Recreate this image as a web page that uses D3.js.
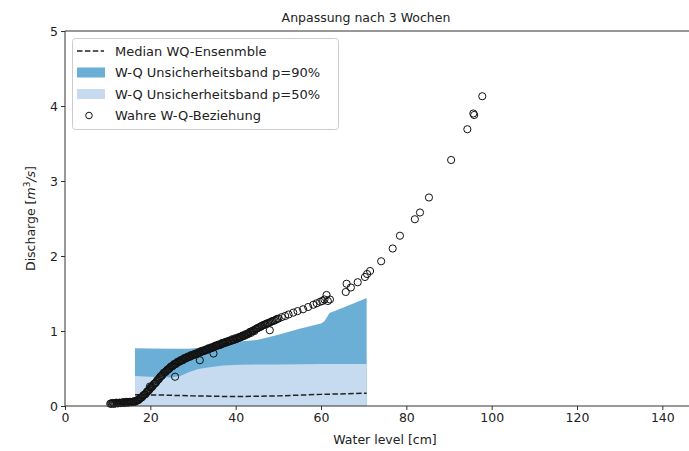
<!DOCTYPE html>
<html><head><meta charset="utf-8">
<script src="https://cdn.jsdelivr.net/npm/d3@7/dist/d3.min.js"></script>
<style>body{margin:0;background:#fff}svg{display:block;font-family:"DejaVu Sans",sans-serif}</style>
</head><body>
<svg id="c" width="689" height="451"></svg>
<script>
// ---- data ----
const xTicks = [0,20,40,60,80,100,120,140];
const yTicks = [0,1,2,3,4,5];
const bandX   = [16.4,20,25,27,29,31,33,37,41,45,50,55,60,60.8,62,66,70.7];
const upper90 = [0.77,0.768,0.765,0.765,0.765,0.775,0.79,0.83,0.86,0.88,0.95,1.03,1.10,1.13,1.24,1.33,1.44];
const upper50 = [0.40,0.39,0.38,0.40,0.45,0.49,0.51,0.54,0.55,0.555,0.555,0.557,0.56,0.56,0.56,0.56,0.56];
const medX = [16.4,22,30,40,50,60,70.7];
const medY = [0.15,0.147,0.135,0.125,0.135,0.155,0.17];
const obsX = [10.6,11.0,11.4,11.8,12.2,12.6,13.0,13.4,13.8,14.2,14.6,15.0,15.4,15.8,16.2,16.6,17.0,17.4,17.8,18.2,18.6,19.0,19.4,19.8,20.2,20.6,21.0,21.4,21.8,22.2,22.6,23.0,23.4,23.8,24.2,24.6,25.0,25.4,25.8,26.2,26.6,27.0,27.4,27.8,28.2,28.6,29.0,29.4,29.8,30.2,30.6,31.0,31.4,31.8,32.2,32.6,33.0,33.4,33.8,34.2,34.6,35.0,35.4,35.8,36.2,36.6,37.0,37.4,37.8,38.2,38.6,39.0,39.4,39.8,40.2,40.6,41.0,41.4,41.8,42.2,42.6,43.0,43.4,43.8,44.2,44.6,45.0,45.5,46.0,46.5,47.0,47.6,48.2,48.8,49.4,50.0,50.8,51.6,52.4,53.5,54.5,55.8,57.0,58.2,59.0,59.8,60.3,60.8,61.3,62.1,61.6,
  19.9,25.8,31.6,34.8,48.0,
  65.8,66.0,67.0,68.6,70.3,70.8,71.5,74.1,76.8,78.5,82.0,83.2,85.3,90.5,94.3,95.7,95.9,97.8];
const obsY = [0.03,0.03,0.035,0.035,0.04,0.04,0.04,0.045,0.045,0.05,0.05,0.05,0.055,0.055,0.06,0.065,0.075,0.09,0.11,0.13,0.15,0.17,0.2,0.22,0.25,0.27,0.3,0.32,0.35,0.38,0.40,0.43,0.45,0.47,0.49,0.51,0.53,0.545,0.56,0.575,0.59,0.60,0.61,0.625,0.635,0.645,0.655,0.665,0.675,0.685,0.69,0.70,0.71,0.72,0.73,0.735,0.745,0.755,0.765,0.77,0.78,0.79,0.80,0.81,0.815,0.825,0.835,0.84,0.85,0.86,0.865,0.875,0.88,0.885,0.895,0.905,0.915,0.925,0.935,0.945,0.955,0.965,0.99,0.995,1.01,1.02,1.035,1.05,1.065,1.08,1.09,1.105,1.12,1.135,1.15,1.165,1.185,1.20,1.22,1.245,1.265,1.29,1.32,1.35,1.37,1.39,1.40,1.42,1.48,1.42,1.40,
  0.26,0.39,0.61,0.70,1.01,
  1.52,1.63,1.58,1.65,1.72,1.76,1.80,1.93,2.10,2.27,2.49,2.58,2.78,3.28,3.69,3.90,3.88,4.13];
// second batch of observations (dense low range)
const obsX2 = [10.8,11.2,11.6,12.0,12.4,12.8,13.2,13.6,14.0,14.4,14.8,15.2,15.6,16.0,16.4,16.8,17.2,17.6,18.0,18.4,18.8,19.2,19.6,20.0,20.4,20.8,21.2,21.6,22.0,22.4,22.8,23.2,23.6,24.0,24.4,24.8,25.2,25.6,26.0,26.4,26.8,27.2,27.6,28.0,28.4,28.8,29.2,29.6,30.0,30.4,30.8,31.2,31.6,32.0,32.4,32.8,33.2,33.6,34.0,34.4,34.8,35.2,35.6,36.0,36.4,36.8,37.2,37.6,38.0,38.4,38.8,39.2,39.6,40.0,40.4,40.8,41.2,41.6,42.0,42.4,42.8,43.2,43.6,44.0,44.4,44.8,45.2,45.8,46.2,46.8,47.3,47.9,48.5,49.1,49.7];
const obsY2 = [0.035,0.04,0.03,0.045,0.035,0.045,0.04,0.05,0.04,0.055,0.045,0.055,0.05,0.06,0.055,0.075,0.08,0.105,0.115,0.145,0.155,0.19,0.205,0.24,0.255,0.29,0.305,0.34,0.36,0.395,0.41,0.445,0.455,0.485,0.495,0.525,0.53,0.56,0.56,0.59,0.59,0.615,0.61,0.64,0.635,0.66,0.655,0.68,0.675,0.695,0.69,0.715,0.71,0.735,0.73,0.75,0.745,0.77,0.765,0.785,0.78,0.805,0.80,0.82,0.815,0.84,0.835,0.855,0.85,0.87,0.865,0.89,0.885,0.905,0.90,0.92,0.915,0.94,0.935,0.96,0.955,0.98,0.975,1.0,1.0,1.03,1.04,1.055,1.07,1.085,1.10,1.11,1.13,1.14,1.16];

// ---- layout ----
const svg = d3.select("#c");
const L = 65, R = 705, T = 31, B = 406;
const x = d3.scaleLinear().domain([0,150]).range([L,R]);
const y = d3.scaleLinear().domain([0,5]).range([B,T]);

const bands = bandX.map((v,i)=>({x:v,u90:upper90[i],u50:upper50[i]}));
const area90 = d3.area().x(d=>x(d.x)).y0(y(0)).y1(d=>y(d.u90));
const area50 = d3.area().x(d=>x(d.x)).y0(y(0)).y1(d=>y(d.u50));
svg.append("path").attr("d",area90(bands)).attr("fill","#6baed6");
svg.append("path").attr("d",area50(bands)).attr("fill","#c6dbef");

const med = medX.map((v,i)=>[v,medY[i]]);
svg.append("path").attr("d",d3.line().x(d=>x(d[0])).y(d=>y(d[1]))(med))
  .attr("fill","none").attr("stroke","#222").attr("stroke-width",1.5).attr("stroke-dasharray","5.5,2.4");

const pts = obsX.map((v,i)=>[v,obsY[i]]).concat(obsX2.map((v,i)=>[v,obsY2[i]]));
svg.append("g").selectAll("circle").data(pts).join("circle")
  .attr("cx",d=>x(d[0])).attr("cy",d=>y(d[1])).attr("r",3.6)
  .attr("fill","none").attr("stroke","#111").attr("stroke-width",1);

// axes
const xa = svg.append("g").attr("transform",`translate(0,${B})`)
  .call(d3.axisBottom(x).tickValues(xTicks).tickSize(4).tickPadding(3).tickFormat(d3.format("d")));
const ya = svg.append("g").attr("transform",`translate(${L},0)`)
  .call(d3.axisLeft(y).tickValues(yTicks).tickSize(4).tickPadding(3).tickFormat(d3.format("d")));
[xa,ya].forEach(a=>{a.select(".domain").remove();a.selectAll("text").attr("font-size",12.5).attr("fill","#222").attr("font-family","DejaVu Sans");a.selectAll("line").attr("stroke","#333");});
// spines
svg.append("line").attr("x1",L).attr("x2",R).attr("y1",B).attr("y2",B).attr("stroke","#333");
svg.append("line").attr("x1",L).attr("x2",R).attr("y1",T).attr("y2",T).attr("stroke","#333");
svg.append("line").attr("x1",L).attr("x2",L).attr("y1",T).attr("y2",B).attr("stroke","#333");

// texts
svg.append("text").attr("x",366).attr("y",22).attr("text-anchor","middle").attr("font-size",12.5).attr("fill","#222").text("Anpassung nach 3 Wochen");
svg.append("text").attr("x",385).attr("y",444).attr("text-anchor","middle").attr("font-size",12.5).attr("fill","#222").text("Water level [cm]");
const yl = svg.append("text").attr("transform",`translate(35,${(T+B)/2}) rotate(-90)`).attr("text-anchor","middle").attr("font-size",12.5).attr("fill","#222");
yl.append("tspan").text("Discharge [");
yl.append("tspan").attr("font-style","italic").text("m");
yl.append("tspan").attr("font-size",9).attr("dy",-5).text("3");
yl.append("tspan").attr("font-style","italic").attr("dy",5).text("/s");
yl.append("tspan").text("]");

// legend
const lg = svg.append("g");
lg.append("rect").attr("x",72.5).attr("y",38.5).attr("width",266).attr("height",91).attr("rx",3)
  .attr("fill","#fff").attr("fill-opacity",0.8).attr("stroke","#ccc");
const rows = [51,72.5,94,115.5];
const labels = ["Median WQ-Ensenmble","W-Q Unsicherheitsband p=90%","W-Q Unsicherheitsband p=50%","Wahre W-Q-Beziehung"];
lg.append("line").attr("x1",77).attr("x2",104).attr("y1",rows[0]).attr("y2",rows[0])
  .attr("stroke","#222").attr("stroke-width",1.5).attr("stroke-dasharray","5.5,2.4");
lg.append("rect").attr("x",77).attr("y",rows[1]-5).attr("width",28).attr("height",10).attr("fill","#6baed6");
lg.append("rect").attr("x",77).attr("y",rows[2]-5).attr("width",28).attr("height",10).attr("fill","#c6dbef");
lg.append("circle").attr("cx",89).attr("cy",rows[3]).attr("r",3.3).attr("fill","none").attr("stroke","#111");
labels.forEach((t,i)=>lg.append("text").attr("x",115).attr("y",rows[i]).attr("dy","0.36em").attr("font-size",13).attr("fill","#222").text(t));
</script>
</body></html>
